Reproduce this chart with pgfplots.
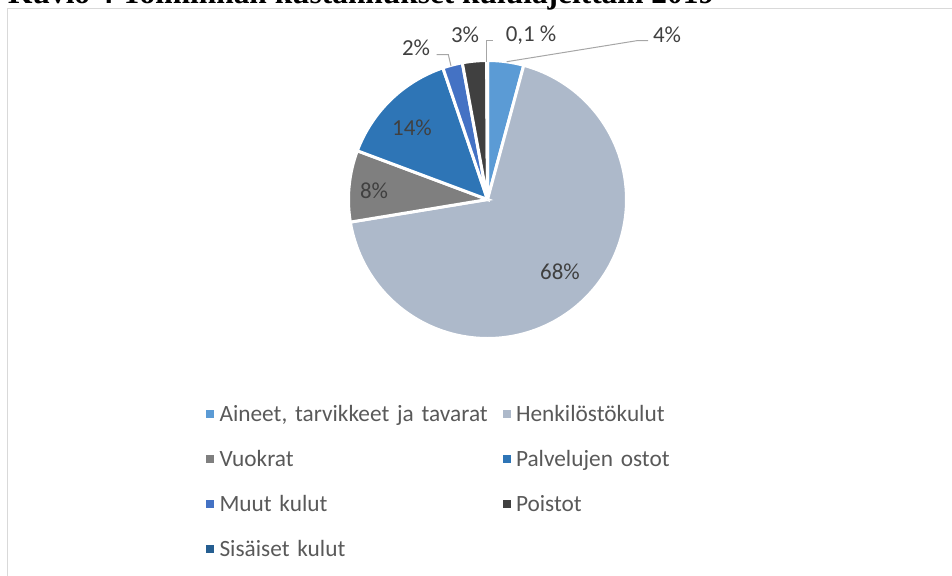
\documentclass[border=0pt]{standalone}
\usepackage{pgfplots}
\pgfplotsset{compat=1.18}
\usepackage{fontspec}
\setmainfont{Carlito}
\newfontfamily\titlefont{Liberation Serif}
\definecolor{cA}{HTML}{5B9BD5}
\definecolor{cB}{HTML}{ADB9CA}
\definecolor{cC}{HTML}{7F7F7F}
\definecolor{cD}{HTML}{2E75B6}
\definecolor{cE}{HTML}{4472C4}
\definecolor{cF}{HTML}{404040}
\definecolor{cG}{HTML}{255E91}
\definecolor{lbl}{HTML}{404040}
\definecolor{leg}{HTML}{595959}
\definecolor{lead}{HTML}{A6A6A6}
\definecolor{frame}{HTML}{D9D9D9}
% shares in percent
\def\vA{4.2}   % Aineet, tarvikkeet ja tavarat
\def\vB{68.2}  % Henkilostokulut
\def\vC{8.3}   % Vuokrat
\def\vD{14.1}  % Palvelujen ostot
\def\vE{2.3}   % Muut kulut
\def\vF{2.8}   % Poistot
\def\vG{0.1}   % Sisaiset kulut
\pgfmathsetmacro\cA{\vA}
\pgfmathsetmacro\cB{\cA+\vB}
\pgfmathsetmacro\cC{\cB+\vC}
\pgfmathsetmacro\cD{\cC+\vD}
\pgfmathsetmacro\cE{\cD+\vE}
\pgfmathsetmacro\cF{\cE+\vF}
\pgfmathsetmacro\cG{\cF+\vG}
\newcommand\slice[3]{%
  \addplot[fill=#3, draw=white, line width=3bp, domain=#1:#2, samples=120]
    ({487.5+139*sin(3.6*x)},{199.5-139*cos(3.6*x)}) -- (axis cs:487.5,199.5) -- cycle;}
\begin{document}
\begin{tikzpicture}
\useasboundingbox (0,0) rectangle (952bp,576bp);
\begin{axis}[
  at={(0,0)}, anchor=south west,
  scale only axis, width=952bp, height=576bp,
  xmin=0, xmax=952, ymin=0, ymax=576, y dir=reverse,
  hide axis, clip=false,
  legend columns=2,
  legend cell align=left,
  legend style={at={(0.2164,0.2995)}, anchor=north west, draw=none, fill=none,
    inner sep=0pt, outer sep=0pt, row sep=24bp,
    font=\fontsize{23.4}{23.4}\selectfont, text=leg,
    nodes={inner sep=0pt, text height=18bp, text depth=3bp, text width=283bp, align=left}},
  legend image code/.code={\fill[#1,draw=none] (0bp,-4bp) rectangle (8bp,4bp); \path (12bp,0bp);},
]
\draw[frame, line width=1bp] (axis cs:7.5,960) -- (axis cs:7.5,8.5) -- (axis cs:960,8.5);
\node[overlay, inner sep=0pt, anchor=base west, font=\titlefont\bfseries\fontsize{31.5}{31.5}\selectfont] at (axis cs:8,3) {Kuvio 4 Toiminnan kustannukset kululajeittain 2019};

\slice{0}{\cA}{cA}
\addlegendentry{Aineet, tarvikkeet ja tavarat}
\slice{\cA}{\cB}{cB}
\addlegendentry{Henkilöstökulut}
\slice{\cB}{\cC}{cC}
\addlegendentry{Vuokrat}
\slice{\cC}{\cD}{cD}
\addlegendentry{Palvelujen ostot}
\slice{\cD}{\cE}{cE}
\addlegendentry{Muut kulut}
\slice{\cE}{\cF}{cF}
\addlegendentry{Poistot}
\slice{\cF}{\cG}{cG}
\addlegendentry{Sisäiset kulut}

\addplot[lead, line width=1bp, forget plot] coordinates {(506.7,61.7) (636.7,40.7) (648,40.7)};
\addplot[lead, line width=1bp, forget plot] coordinates {(486.7,61.5) (486.7,40.7) (493,40.7)};
\addplot[lead, line width=1bp, forget plot] coordinates {(451,66) (448.3,54.5) (436.7,54.5)};

\begin{scope}[every node/.style={font=\fontsize{23}{23}\selectfont, text=lbl, inner sep=0pt}]
\node at (axis cs:667,35) {4\%};
\node at (axis cs:531,35) {0,1 \%};
\node at (axis cs:465,35) {3\%};
\node at (axis cs:416,48) {2\%};
\node at (axis cs:412,127.5) {14\%};
\node at (axis cs:374,190.5) {8\%};
\node at (axis cs:560,272) {68\%};
\end{scope}
\end{axis}
\end{tikzpicture}
\end{document}
